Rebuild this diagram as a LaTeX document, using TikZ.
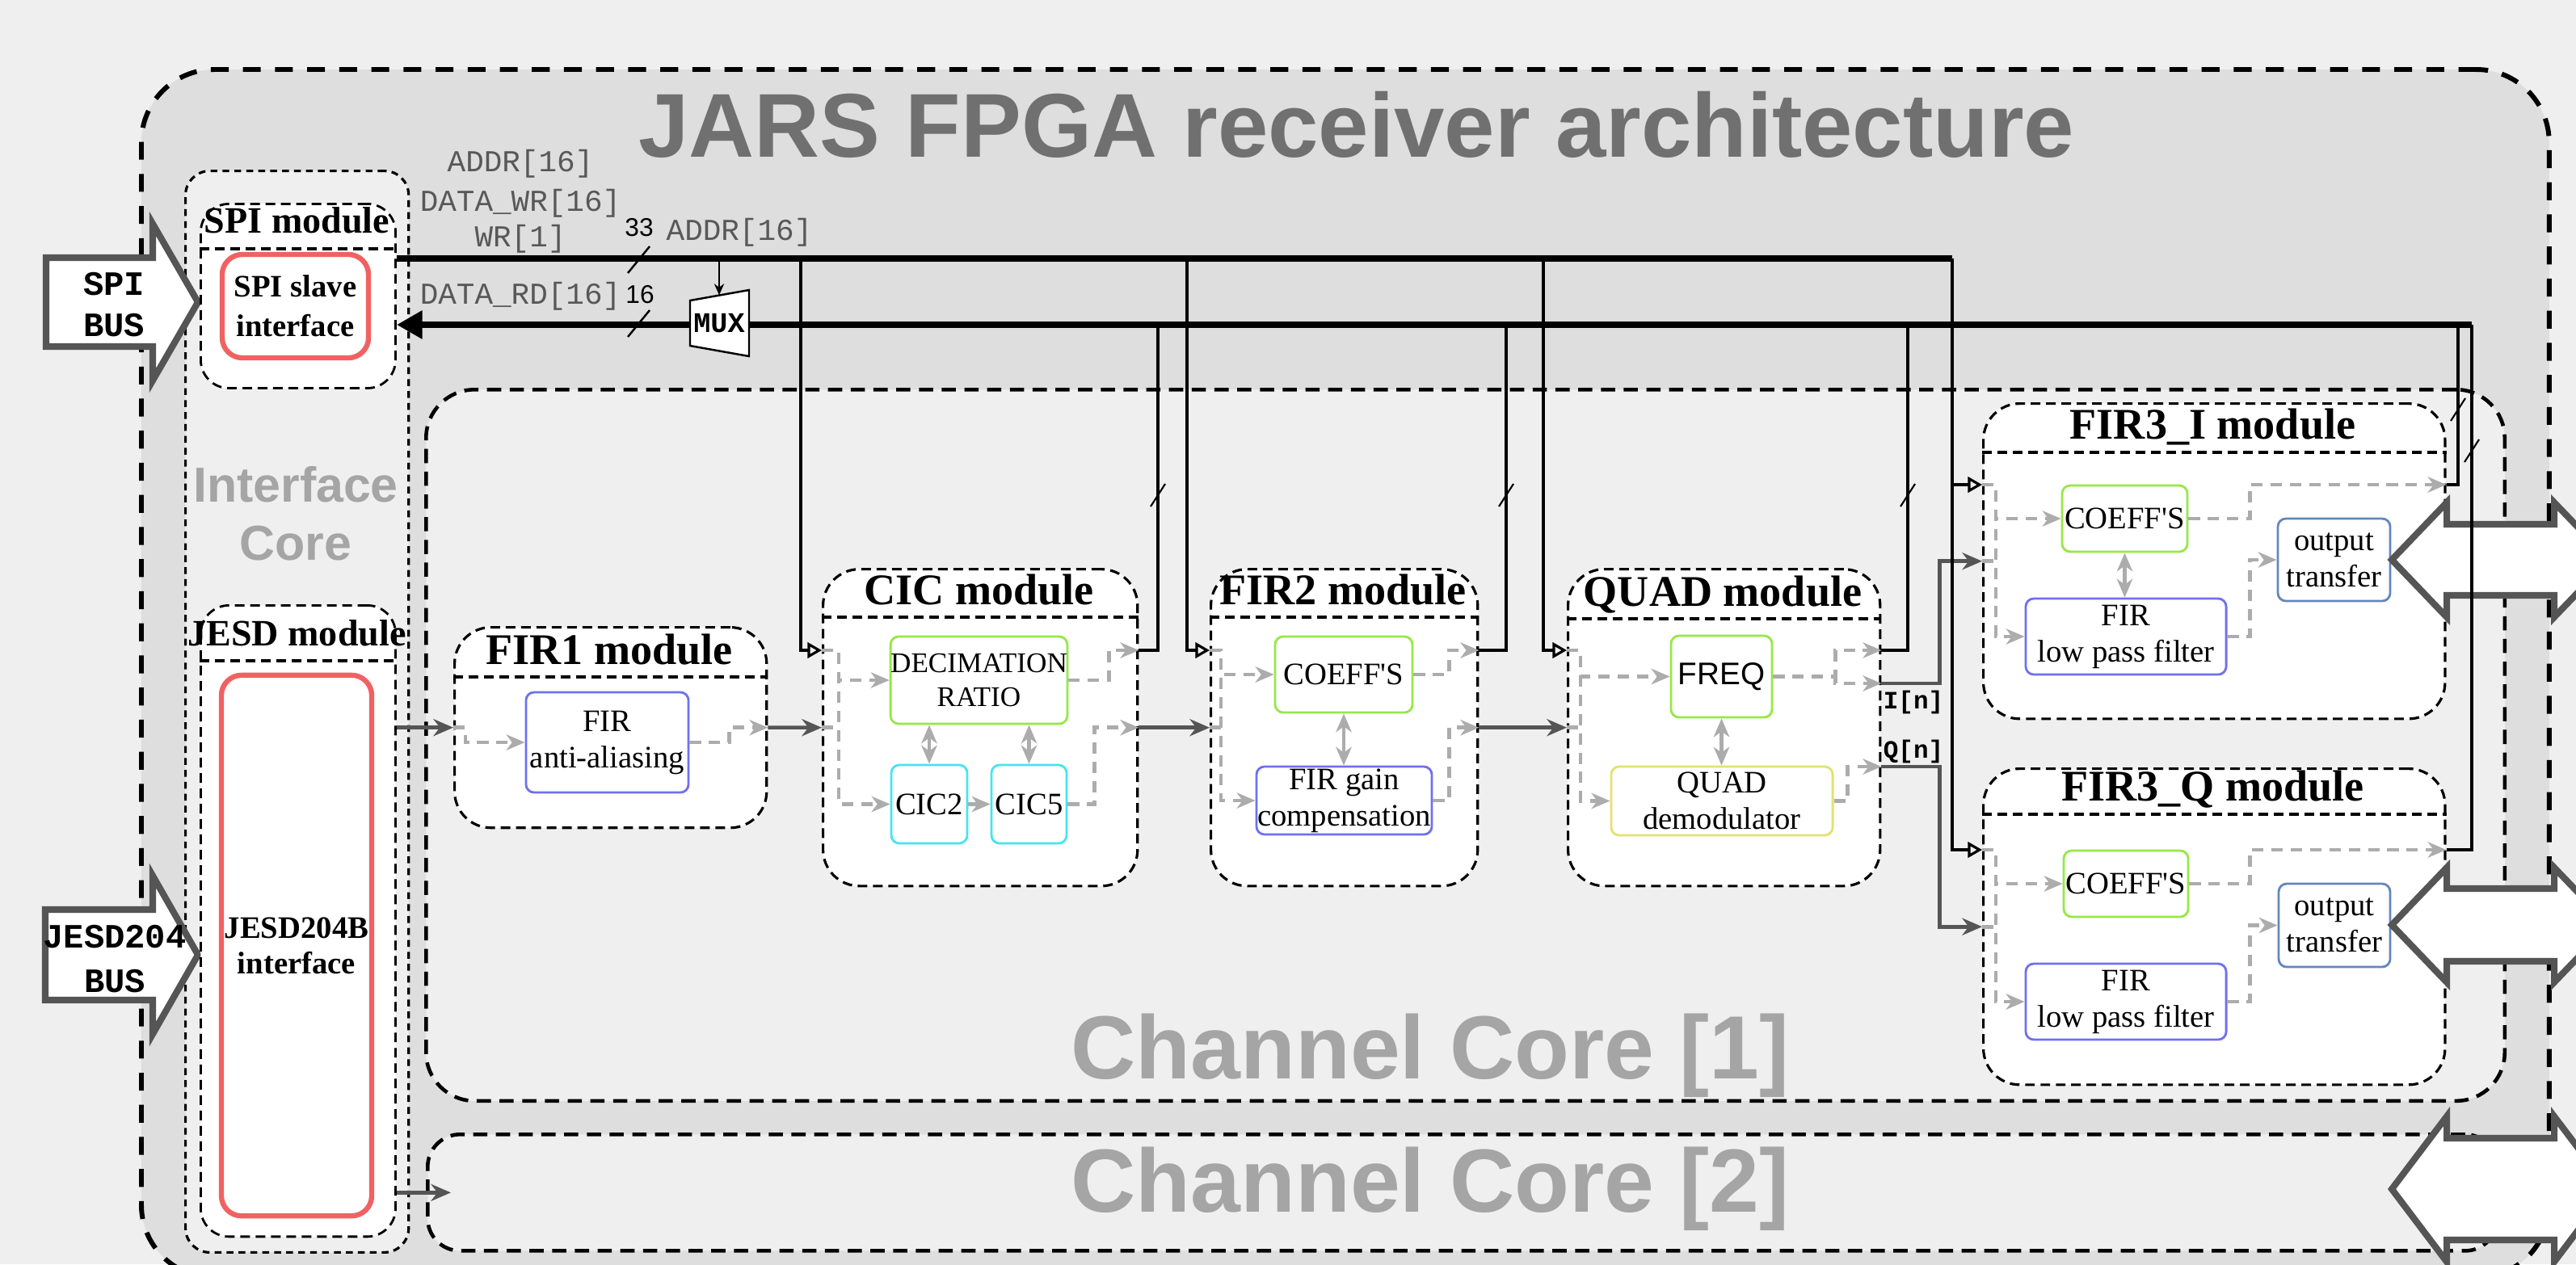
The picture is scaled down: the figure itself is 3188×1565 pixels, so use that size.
\documentclass[tikz,border=0pt]{standalone}
\usepackage{fontspec}
\setmainfont{Liberation Serif}
\setsansfont{Liberation Sans}
\setmonofont{Liberation Mono}
\usetikzlibrary{arrows.meta,calc}

\definecolor{sfondo}{RGB}{239,239,239}
\definecolor{fpga}{RGB}{222,222,222}
\definecolor{rosso}{RGB}{240,98,98}
\definecolor{verde}{RGB}{150,232,70}
\definecolor{ciano}{RGB}{70,228,240}
\definecolor{blu}{RGB}{112,112,238}
\definecolor{giallo}{RGB}{226,226,112}
\definecolor{acciaio}{RGB}{100,135,185}
\definecolor{titolo}{RGB}{112,112,112}
\definecolor{nucleo}{RGB}{165,165,165}
\definecolor{tratt}{RGB}{172,172,172}
\definecolor{scuro}{RGB}{85,85,85}
\definecolor{etich}{RGB}{88,88,88}

\begin{document}
\begin{tikzpicture}[x=0.01cm,y=-0.01cm,
    contorno/.style={draw,inner sep=0pt,anchor=north west},
    esterno/.style={contorno,fill=fpga,line width=1.7pt,dash pattern=on 6.3pt off 5pt,rounded corners=0.9cm},
    canale/.style={contorno,fill=sfondo,line width=1.3pt,dash pattern=on 5pt off 3pt,rounded corners=0.6cm},
    interno/.style={contorno,fill=sfondo,line width=0.9pt,dash pattern=on 2.4pt off 1.8pt,rounded corners=0.3cm},
    modulo/.style={contorno,fill=white,line width=0.9pt,dash pattern=on 3.4pt off 2pt,rounded corners=0.45cm},
    separa/.style={line width=0.9pt,dash pattern=on 3.4pt off 2pt},
    tmod/.style={font=\bfseries\fontsize{15.4}{17}\selectfont,anchor=base},
    tspi/.style={font=\bfseries\fontsize{13.1}{15}\selectfont,anchor=base},
    tcore/.style={font=\sffamily\bfseries\fontsize{31.6}{34}\selectfont,text=nucleo,anchor=base},
    blocco/.style={draw,fill=white,line width=0.8pt,rounded corners=0.1cm,inner sep=0pt,align=center,font=\fontsize{11}{12.8}\selectfont},
    bordorosso/.style={draw=rosso,fill=white,line width=1.8pt,rounded corners=0.25cm,inner sep=0pt,align=center},
    freccia/.style={draw=scuro,fill=white,line width=2.3pt},
    dati/.style={draw=scuro,line width=1.3pt,-{Stealth[length=7pt,width=6pt]}},
    gline/.style={draw=tratt,line width=1.4pt,dash pattern=on 4pt off 2.8pt,-{Stealth[length=6.5pt,width=5.5pt,inset=2pt]}},
    gstub/.style={draw=tratt,line width=1.4pt,dash pattern=on 4pt off 2.8pt},
    gbi/.style={draw=tratt,line width=1.4pt,{Stealth[length=6.5pt,width=5.5pt,inset=2pt]}-{Stealth[length=6.5pt,width=5.5pt,inset=2pt]}},
    cin/.style={line width=0.9pt,-{Triangle[open,length=5pt,width=5.5pt]}},
    cout/.style={line width=0.9pt},
    bus/.style={line width=2.3pt},
    etichetta/.style={font=\ttfamily\fontsize{10.7}{12}\selectfont,text=etich}
]
    % sfondo
    \useasboundingbox (0,0) rectangle (3188,1565);
    \fill[sfondo] (0,0) rectangle (3188,1565);

    % contenitori
    \node[esterno,minimum width=29.78cm,minimum height=14.95cm] (fpga) at (172,83) {};
    \node[interno,minimum width=2.76cm,minimum height=13.38cm] (icore) at (228,210) {};
    \node[canale,minimum width=25.71cm,minimum height=8.80cm] (cc1) at (525,480) {};
    \node[canale,minimum width=25.60cm,minimum height=1.44cm,rounded corners=0.4cm] (cc2) at (527,1402) {};

    % titoli
    \node[font=\sffamily\bfseries\fontsize{31.9}{34}\selectfont,text=titolo,anchor=base] (tit) at (1679,194) {JARS FPGA receiver architecture};
    \node[font=\sffamily\bfseries\fontsize{17.3}{20.5}\selectfont,text=nucleo,align=center] (lic) at (366,636) {Interface\\Core};
    \node[tcore] (lcc1) at (1770,1335) {Channel Core [1]};
    \node[tcore] (lcc2) at (1770,1500) {Channel Core [2]};

    % frecce esterne
    \draw[freccia] (57,319) -- (189,319) -- (189,277) -- (245,374) -- (189,471) -- (189,429) -- (57,429) -- cycle;
    \draw[freccia] (56,1126) -- (189,1126) -- (189,1084) -- (245,1182) -- (189,1280) -- (189,1238) -- (56,1238) -- cycle;
    \node[font=\ttfamily\bfseries\fontsize{12}{14.5}\selectfont,align=center] (spibus) at (141,377) {SPI\\BUS};
    \node[font=\ttfamily\bfseries\fontsize{12}{15.4}\selectfont,align=center] (jesdbus) at (142,1187) {JESD204\\BUS};

    % modulo SPI
    \node[modulo,line width=0.8pt,rounded corners=0.35cm,minimum width=2.41cm,minimum height=2.28cm] (spimod) at (247,251) {};
    \draw[separa] ($(spimod.north west)+(0,57)$) -- ($(spimod.north east)+(0,57)$);
    \node[tspi] (tspimod) at (367.5,288) {SPI module};
    \node[bordorosso,font=\bfseries\fontsize{11}{14}\selectfont,minimum width=1.81cm,minimum height=1.28cm] (spislv) at (365.5,379) {SPI slave\\interface};

    % modulo JESD
    \node[modulo,line width=0.8pt,rounded corners=0.35cm,minimum width=2.41cm,minimum height=7.81cm] (jesdmod) at (247,748) {};
    \draw[separa] ($(jesdmod.north west)+(0,70)$) -- ($(jesdmod.north east)+(0,70)$);
    \node[tspi] (tjesd) at (367.5,799) {JESD module};
    \node[bordorosso,font=\bfseries\fontsize{11}{12.5}\selectfont,minimum width=1.86cm,minimum height=6.69cm] (jesdif) at (367,1170.5) {JESD204B\\interface};

    % FIR1
    \node[modulo,minimum width=3.86cm,minimum height=2.48cm] (fir1) at (561,775) {};
    \draw[separa] ($(fir1.north west)+(0,63)$) -- ($(fir1.north east)+(0,63)$);
    \node[tmod] (tfir1) at (754,822) {FIR1 module};
    \node[blocco,draw=blu,minimum width=2.01cm,minimum height=1.24cm] (aa) at (751.5,919) {FIR\\anti-aliasing};

    % CIC
    \node[modulo,minimum width=3.89cm,minimum height=3.92cm] (cic) at (1017,703) {};
    \draw[separa] ($(cic.north west)+(0,61)$) -- ($(cic.north east)+(0,61)$);
    \node[tmod] (tcic) at (1211.5,748) {CIC module};
    \node[blocco,draw=verde,font=\fontsize{10}{11.7}\selectfont,minimum width=2.17cm,minimum height=1.08cm] (dec) at (1211.5,842) {DECIMATION\\RATIO};
    \node[blocco,draw=ciano,minimum width=0.94cm,minimum height=0.97cm] (cic2) at (1150,995.5) {CIC2};
    \node[blocco,draw=ciano,minimum width=0.93cm,minimum height=0.97cm] (cic5) at (1273.5,995.5) {CIC5};

    % FIR2
    \node[modulo,minimum width=3.30cm,minimum height=3.92cm] (fir2) at (1497,703) {};
    \draw[separa] ($(fir2.north west)+(0,61)$) -- ($(fir2.north east)+(0,61)$);
    \node[tmod] (tfir2) at (1662,748) {FIR2 module};
    \node[blocco,draw=verde,minimum width=1.70cm,minimum height=0.94cm] (coef2) at (1663,835) {COEFF\textquotesingle S};
    \node[blocco,draw=blu,minimum width=2.17cm,minimum height=0.84cm] (gain) at (1663.5,991) {FIR gain\\compensation};

    % QUAD
    \node[modulo,minimum width=3.86cm,minimum height=3.92cm] (quad) at (1939,703) {};
    \draw[separa] ($(quad.north west)+(0,63)$) -- ($(quad.north east)+(0,63)$);
    \node[tmod] (tquad) at (2132,750) {QUAD module};
    \node[blocco,draw=verde,font=\sffamily\fontsize{11}{12.8}\selectfont,minimum width=1.25cm,minimum height=1.01cm] (freq) at (2130.5,837.5) {FREQ};
    \node[blocco,draw=giallo,minimum width=2.74cm,minimum height=0.85cm] (demod) at (2131,991.5) {QUAD\\demodulator};

    % FIR3_I
    \node[modulo,minimum width=5.71cm,minimum height=3.90cm] (firi) at (2453,498) {};
    \draw[separa] ($(firi.north west)+(0,62)$) -- ($(firi.north east)+(0,62)$);
    \node[tmod] (tfiri) at (2738.5,543) {FIR3\_I module};
    \node[blocco,draw=verde,minimum width=1.55cm,minimum height=0.82cm] (coefi) at (2629.5,642) {COEFF\textquotesingle S};
    \node[blocco,draw=blu,minimum width=2.48cm,minimum height=0.94cm] (lpfi) at (2631,788) {FIR\\low pass filter};
    \node[blocco,draw=acciaio,minimum width=1.39cm,minimum height=1.02cm] (outi) at (2888.5,693) {output\\transfer};

    % FIR3_Q
    \node[modulo,minimum width=5.71cm,minimum height=3.91cm] (firq) at (2453,950) {};
    \draw[separa] ($(firq.north west)+(0,58)$) -- ($(firq.north east)+(0,58)$);
    \node[tmod] (tfirq) at (2738.5,991) {FIR3\_Q module};
    \node[blocco,draw=verde,minimum width=1.54cm,minimum height=0.82cm] (coefq) at (2631,1094) {COEFF\textquotesingle S};
    \node[blocco,draw=blu,minimum width=2.48cm,minimum height=0.94cm] (lpfq) at (2631,1240) {FIR\\low pass filter};
    \node[blocco,draw=acciaio,minimum width=1.38cm,minimum height=1.03cm] (outq) at (2889,1145.5) {output\\transfer};

    % frecce di uscita
    \foreach \yc/\bh/\hh in {693/44/71,1145/45/71,1472/63/90}
        \draw[freccia] (2960,\yc) -- (3028,\yc-\hh) -- (3028,\yc-\bh) -- (3161,\yc-\bh) -- (3161,\yc-\hh) -- (3229,\yc)
            -- (3161,\yc+\hh) -- (3161,\yc+\bh) -- (3028,\yc+\bh) -- (3028,\yc+\hh) -- cycle;

    % porte
    \foreach \m in {cic,fir2,quad,firi,firq} {
        \coordinate (\m-ci) at ($(\m.north west)+(0,102)$);
        \coordinate (\m-co) at ($(\m.north east)+(0,102)$);
    }
    \coordinate (quad-i) at ($(quad.north east)+(0,143)$);
    \coordinate (quad-q) at ($(quad.north east)+(0,246)$);

    % percorsi interni
    \draw[gline] (fir1.west) -- ++(15,0) |- (aa.west);
    \draw[gline] (aa.east) -- ++(49,0) |- (fir1.east);

    \draw[gstub] (cic.west) -- ++(21,0);
    \draw[gline] (cic-ci) -- ++(21,0) |- (dec.west);
    \draw[gline] (cic-ci) -- ++(21,0) |- (cic2.west);
    \draw[gline] (dec.east) -- ++(50,0) |- (cic-co);
    \draw[gline] (cic5.east) -- ++(33,0) |- (cic.east);
    \draw[gline] (cic2) -- (cic5);
    \draw[gbi] (cic2.north |- dec.south) -- (cic2.north);
    \draw[gbi] (cic5.north |- dec.south) -- (cic5.north);

    \draw[gstub] (fir2.west) -- ++(14,0);
    \draw[gline] (fir2-ci) -- ++(14,0) |- (coef2.west);
    \draw[gline] (fir2-ci) -- ++(14,0) |- (gain.west);
    \draw[gline] (coef2.east) -- ++(44,0) |- (fir2-co);
    \draw[gline] (gain.east) -- ++(20,0) |- (fir2.east);
    \draw[gbi] (coef2.south) -- (coef2.south |- gain.north);

    \draw[gstub] (quad.west) -- ++(17,0);
    \draw[gline] (quad-ci) -- ++(17,0) |- (freq.west);
    \draw[gline] (quad-ci) -- ++(17,0) |- (demod.west);
    \draw[gline] (freq.east) -- ++(77,0) |- (quad-co);
    \draw[gline] (freq.east) -- ++(77,0) |- (quad-i);
    \draw[gline] (demod.east) -- ++(17,0) |- (quad-q);
    \draw[gbi] (freq.south) -- (freq.south |- demod.north);

    \draw[gstub] (firi.west) -- ++(17,0);
    \draw[gline] (firi-ci) -- ++(17,0) |- (coefi.west);
    \draw[gline] (firi-ci) -- ++(17,0) |- (lpfi.west);
    \draw[gline] (coefi.east) -- ++(76,0) |- (firi-co);
    \draw[gline] (lpfi.east) -- ++(28,0) |- (outi.west);
    \draw[gbi] (coefi.south) -- (coefi.south |- lpfi.north);

    \draw[gstub] (firq.west) -- ++(17,0);
    \draw[gline] (firq-ci) -- ++(17,0) |- (coefq.west);
    \draw[gline] (firq-ci) -- ++(17,0) |- (lpfq.west);
    \draw[gline] (coefq.east) -- ++(75,0) |- (firq-co);
    \draw[gline] (lpfq.east) -- ++(28,0) |- (outq.west);

    % dati
    \draw[dati] (jesdmod.east |- fir1.west) -- (fir1.west);
    \draw[dati] (fir1) -- (cic);
    \draw[dati] (cic) -- (fir2);
    \draw[dati] (fir2) -- (quad);
    \draw[dati] (quad-i) -- ++(72,0) |- (firi.west);
    \draw[dati] (quad-q) -- ++(72,0) |- (firq.west);
    \draw[dati] (jesdmod.east |- cc2.west) -- ++(67,0);
    \node[font=\ttfamily\bfseries\fontsize{8.8}{10}\selectfont] (lin) at (2368,869) {I[n]};
    \node[font=\ttfamily\bfseries\fontsize{8.8}{10}\selectfont] (lqn) at (2368,930) {Q[n]};

    % controllo
    \coordinate (w1) at (991,320);
    \coordinate (w2) at (1469,320);
    \coordinate (w3) at (1910,320);
    \coordinate (w4) at (2416,320);
    \coordinate (r1) at (1433,402);
    \coordinate (r2) at (1864,402);
    \coordinate (r3) at (2361,402);
    \coordinate (r4) at (3042,402);
    \coordinate (r5) at (3059,402);
    \draw[cin] (w1) |- (cic-ci);
    \draw[cout] (cic-co) -| (r1);
    \draw[cin] (w2) |- (fir2-ci);
    \draw[cout] (fir2-co) -| (r2);
    \draw[cin] (w3) |- (quad-ci);
    \draw[cout] (quad-co) -| (r3);
    \draw[cin] (w4) |- (firi-ci);
    \draw[cin] (w4) |- (firq-ci);
    \draw[cout] (firi-co) -| (r4);
    \draw[cout] (firq-co) -| (r5);
    \foreach \x/\y in {1433/613,1864/613,2361/613,3042/507,3059/558}
        \draw[line width=0.6pt] (\x+9,\y-14) -- (\x-9,\y+14);

    % bus SPI
    \draw[bus] (spimod.east |- w1) -- (w4);
    \draw[bus,-{Triangle[length=9pt,width=9.5pt]}] (r5) -- (spimod.east |- r5);
    \draw[line width=0.7pt] (804,305) -- (777,338);
    \draw[line width=0.7pt] (804,384) -- (777,417);
    \node[font=\sffamily\fontsize{9}{10}\selectfont] (n33) at (791,282) {33};
    \node[font=\sffamily\fontsize{9}{10}\selectfont] (n16) at (792,365) {16};

    % mux
    \draw[fill=white,line width=0.7pt] (854,372) -- (927,359) -- (927,441) -- (854,428) -- cycle;
    \node[font=\ttfamily\bfseries\fontsize{10}{11}\selectfont,minimum height=0.68cm,inner sep=0pt] (mux) at (890,400) {MUX};
    \draw[line width=0.6pt,-{Stealth[length=4pt,width=3.5pt]}] (mux.north |- w1) -- (mux.north);

    % etichette bus
    \node[etichetta] (laddr) at (644,203) {ADDR[16]};
    \node[etichetta] (ldwr) at (644,252) {DATA\_WR[16]};
    \node[etichetta] (lwr) at (644,296) {WR[1]};
    \node[etichetta] (ldrd) at (644,367) {DATA\_RD[16]};
    \node[etichetta] (lsel) at (915,288) {ADDR[16]};
\end{tikzpicture}
\end{document}
